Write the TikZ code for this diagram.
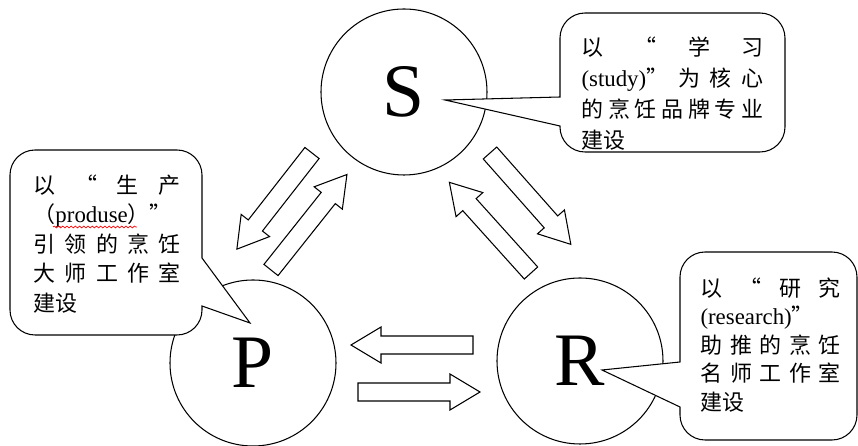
\documentclass[tikz,border=0pt]{standalone}
\usepackage{fontspec}
\setmainfont{Liberation Serif}
\newfontfamily\cjk{Noto Sans CJK SC}
\usetikzlibrary{decorations.pathmorphing}

\begin{document}
\begin{tikzpicture}[
    line width=0.6pt,
    ball/.style={circle, draw, minimum size=3.32cm, inner sep=0pt, font=\fontsize{43}{43}\selectfont},
    bubble/.style={draw, fill=white},
    words/.style={anchor=west, inner sep=0pt, align=left},
    pics/flow/.style={code={
      \draw[fill=white] (0,-0.18) -- (1.84,-0.18) -- (1.84,-0.36) -- (2.44,0)
        -- (1.84,0.36) -- (1.84,0.18) -- (0,0.18) -- cycle;}}
  ]
  \useasboundingbox (0,0) rectangle (17.16,8.92);

  \node[ball] (S) at (8.08,7.08) {S};
  \node[ball] (P) at (5.06,1.66) {P};
  \node[ball] (R) at (11.60,1.70) {R};

  \pic[rotate=232] at (6.24,5.86) {flow};
  \pic[rotate=51.5] at (5.42,3.52) {flow};
  \pic[rotate=-48.5] at (9.80,5.86) {flow};
  \pic[rotate=132] at (10.62,3.46) {flow};
  \pic[rotate=180] at (9.46,2.02) {flow};
  \pic at (7.16,1.08) {flow};

  \draw[bubble] (13.4,8.66) [rounded corners=0.5cm] -- (15.70,8.66) -- (15.70,5.88) -- (11.2,5.88)
    [sharp corners] -- (11.2,6.40) -- (8.90,6.92) -- (11.2,6.98) [rounded corners=0.5cm] -- (11.2,8.66) -- cycle;
  \draw[bubble] (2.1,5.92) [rounded corners=0.5cm] -- (4.04,5.92) [sharp corners] -- (4.04,3.76) -- (5.00,2.46)
    -- (4.04,2.80) [rounded corners=0.5cm] -- (4.04,2.22) -- (0.20,2.22) -- (0.20,5.92) -- cycle;
  \draw[bubble] (15.4,3.88) [rounded corners=0.5cm] -- (17.14,3.88) -- (17.14,0.12) -- (13.60,0.12)
    [sharp corners] -- (13.60,0.78) -- (12.04,1.52) -- (13.60,1.68) [rounded corners=0.5cm] -- (13.60,3.88) -- cycle;

  \node[words, font=\cjk\fontsize{12.5}{17.6}\selectfont] (stext) at (11.62,7.05) {%
    \makebox[3.64cm][s]{以 “ 学 习}\\
    \makebox[3.64cm][s]{{\rmfamily\fontsize{13}{13}\selectfont (study)}” 为 核 心}\\
    \makebox[3.64cm][s]{的 烹 饪 品 牌 专 业}\\
    建设};
  \node[words, font=\cjk\fontsize{12.5}{16.8}\selectfont] (ptext) at (0.66,4.04) {%
    \makebox[2.94cm][s]{以 “ 生 产}\\
    （{\rmfamily\fontsize{13}{13}\selectfont produse}）”\\
    \makebox[2.94cm][s]{引 领 的 烹 饪}\\
    \makebox[2.94cm][s]{大 师 工 作 室}\\
    建设};
  \node[words, font=\cjk\fontsize{12.5}{16.2}\selectfont] (rtext) at (14.00,2.02) {%
    \makebox[2.80cm][s]{以 “ 研 究}\\
    {\rmfamily\fontsize{13}{13}\selectfont (research)}”\\
    \makebox[2.80cm][s]{助 推 的 烹 饪}\\
    \makebox[2.80cm][s]{名 师 工 作 室}\\
    建设};

  \draw[red, line width=0.4pt, decorate, decoration={snake, amplitude=0.5pt, segment length=2.4pt}]
    (1.06,4.38) -- (2.74,4.38);
\end{tikzpicture}
\end{document}
